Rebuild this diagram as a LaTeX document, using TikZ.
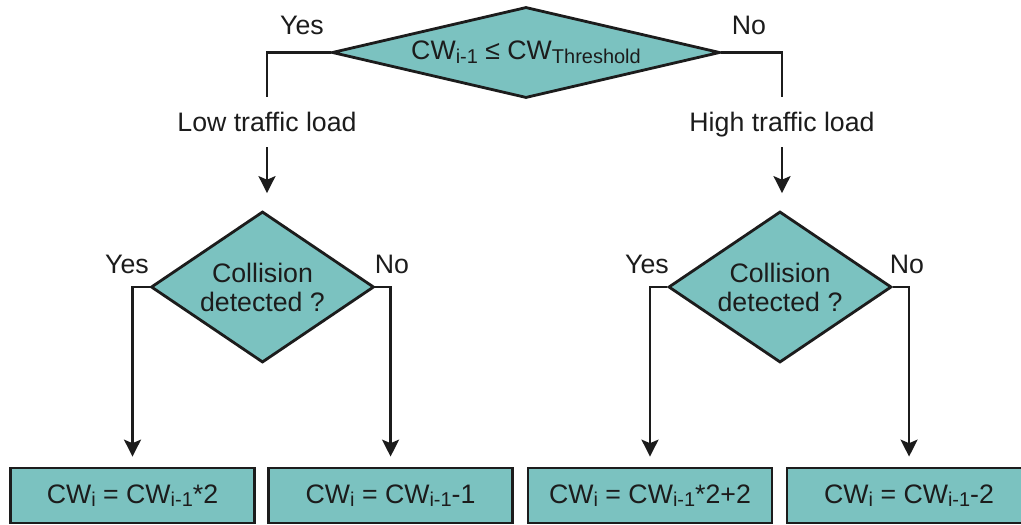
\documentclass[tikz,border=0pt]{standalone}
\usepackage{fontspec}
\setmainfont{Liberation Sans}
\usepackage{tikz}
\usetikzlibrary{shapes.geometric}
\usetikzlibrary{positioning}
\usetikzlibrary{arrows.meta}
\definecolor{boxfill}{RGB}{123,194,192}
\definecolor{ink}{RGB}{28,28,28}
\newcommand{\lowsub}[1]{\raisebox{-2.6pt}{\fontsize{14.2}{14}\selectfont #1}}
\tikzset{every picture/.style={line width=2pt,color=ink,font=\fontsize{19}{20.6}\selectfont},
decision/.style={diamond,draw,fill=boxfill,inner sep=0pt,align=center},
result/.style={rectangle,draw,fill=boxfill,minimum width=6.1cm,minimum height=1.375cm,inner sep=0pt},
branch/.style={inner sep=0pt,minimum height=1.2cm,text depth=0pt},
flow/.style={-{Stealth[length=12pt,width=12pt,inset=2.5pt]}}}

\begin{document}
\begin{tikzpicture}[x=0.025cm,y=-0.025cm]
\clip (0,0) rectangle (1021,525);
\node (top) [decision, minimum width=9.7cm, minimum height=2.275cm, aspect=4.26] at (526,52.5) {CW\lowsub{i-1} ≤ CW\lowsub{Threshold}};
\node (low) [branch] at (267,122) {Low traffic load};
\node (high) [branch] at (782,122) {High traffic load};
\node (dl) [decision, minimum width=5.575cm, minimum height=3.775cm, aspect=1.48] at (262.5,287) {Collision\\detected ?};
\node (dr) [decision, minimum width=5.575cm, minimum height=3.775cm, aspect=1.48] at (780,287) {Collision\\detected ?};

\node (b1) [result] at (132.5,495.5) {CW\lowsub{i} = CW\lowsub{i-1}*2};
\node (b2) [result, right of=b1, node distance=6.45cm] {CW\lowsub{i} = CW\lowsub{i-1}-1};
\node (b3) [result] at (650,495.5) {CW\lowsub{i} = CW\lowsub{i-1}*2+2};
\node (b4) [result, right of=b3, node distance=6.475cm] {CW\lowsub{i} = CW\lowsub{i-1}-2};

\node (yes0) at (302,25.5) {Yes};
\node (no0) at (749,25.5) {No};
\node (yes1) at (127,264.5) {Yes};
\node (no1) at (392,264.5) {No};
\node (yes2) at (647,264.5) {Yes};
\node (no2) at (907,264.5) {No};

\draw (top.west) -| (low.north);
\draw (top.east) -| (high.north);
\draw[flow, shorten >=0.425cm] (low.south) -- (low.south |- dl.north);
\draw[flow, shorten >=0.425cm] (high.south) -- (high.south |- dr.north);
\draw[flow, shorten >=0.25cm] (dl.west) -| (b1.north);
\draw[flow, shorten >=0.25cm] (dl.east) -| (b2.north);
\draw[flow, shorten >=0.25cm] (dr.west) -| (b3.north);
\draw[flow, shorten >=0.25cm] (dr.east) -| (b4.north);
\end{tikzpicture}
\end{document}
